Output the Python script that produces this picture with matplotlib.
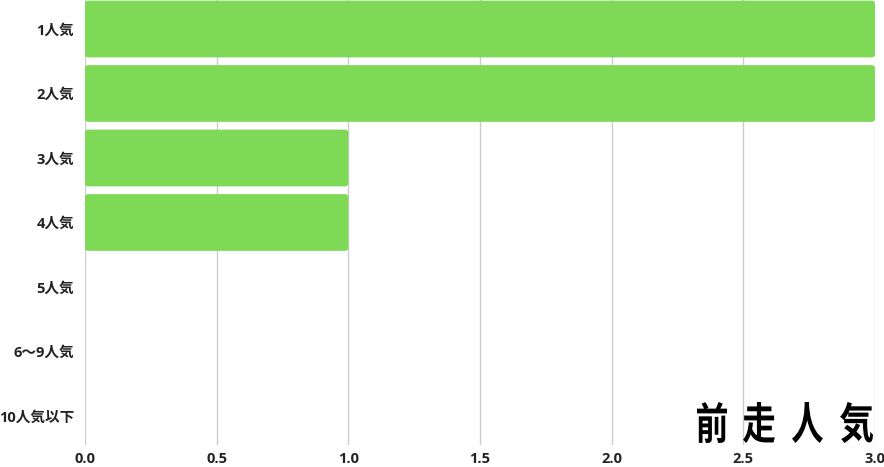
import matplotlib.pyplot as plt
from matplotlib.patches import FancyBboxPatch, PathPatch
from matplotlib.textpath import TextPath
from matplotlib.font_manager import FontProperties
from matplotlib.transforms import Affine2D

plt.rcParams['font.family'] = ['Open Sans', 'Noto Sans CJK JP', 'DejaVu Sans']

categories = ['1人気', '2人気', '3人気', '4人気', '5人気', '6〜9人気', '10人気以下']
values = [3, 3, 1, 1, 0, 0, 0]
xticks = [0.0, 0.5, 1.0, 1.5, 2.0, 2.5, 3.0]
title = '前走人気'

bar_color = '#7ED957'
bar_h = 0.88

W, H = 884, 467
fig = plt.figure(figsize=(W / 100, H / 100), dpi=100)
ax = fig.add_axes([85 / W, 1 - 445 / H, 790 / W, 448.25 / H])

for i, v in enumerate(values):
    if v <= 0:
        continue
    box = FancyBboxPatch((0, i - bar_h / 2), v, bar_h,
                         boxstyle='round,pad=0,rounding_size=0.012',
                         mutation_aspect=4.0,
                         facecolor=bar_color, edgecolor='none', zorder=2)
    ax.add_patch(box)

ax.set_xlim(0, 3.0)
ax.set_ylim(6.45, -0.5)
ax.set_yticks(range(len(categories)))
ax.set_yticklabels(categories, fontsize=10.5, fontweight='bold', color='#222222')
ax.set_xticks(xticks)
ax.set_xticklabels([f'{t:.1f}' for t in xticks], fontsize=10.5, fontweight='bold',
                   color='#222222')
ax.tick_params(axis='both', length=0)
ax.tick_params(axis='y', pad=8)
ax.tick_params(axis='x', pad=5)
ax.grid(axis='x', color='#cccccc', linewidth=1, zorder=0)
ax.set_axisbelow(True)
for s in ax.spines.values():
    s.set_visible(False)

# title at the bottom right, narrow glyphs drawn as paths in pixel space
fp = FontProperties(family='Noto Sans CJK JP', weight='bold')
lefts = [697, 743, 792, 840]
widths = [30, 32, 31, 33]
for ch, px, w in zip(title, lefts, widths):
    tp = TextPath((0, 0), ch, size=46, prop=fp)
    bb = tp.get_extents()
    tr = (Affine2D().translate(-bb.x0, -bb.y0).scale(w / bb.width, 41 / bb.height)
          .translate(px, H - 443))
    fig.add_artist(PathPatch(tr.transform_path(tp), facecolor='black',
                             edgecolor='none', transform=None, zorder=5))

fig.savefig('out.png', dpi=100)
